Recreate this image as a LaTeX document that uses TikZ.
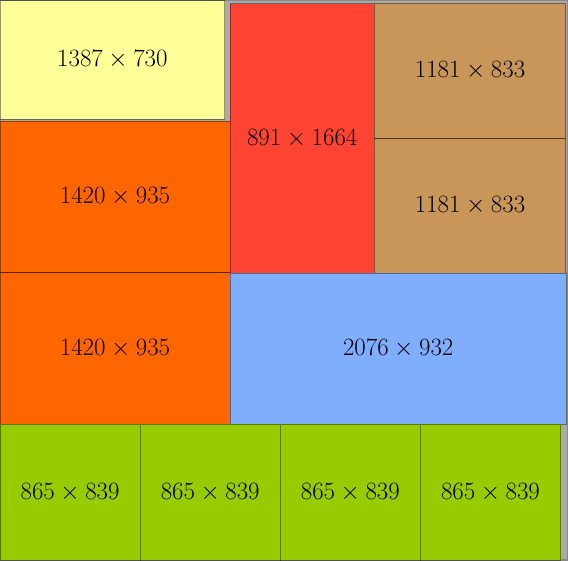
\documentclass[tikz,border=0pt]{standalone}
\usepackage{tikz}
\definecolor{binfill}{HTML}{AAAAAA}
\definecolor{binedge}{HTML}{888888}
\definecolor{cyel}{HTML}{FFFF99}
\definecolor{corange}{HTML}{FF6600}
\definecolor{cred}{HTML}{FF4433}
\definecolor{cbrown}{HTML}{C89659}
\definecolor{cblue}{HTML}{7FAEFF}
\definecolor{cgreen}{HTML}{99CC00}
\tikzset{
  piece/.style={draw=black, draw opacity=0.4, line width=0.8pt, anchor=south west,
    inner sep=0pt, outer sep=0pt, font=\fontsize{24}{28}\selectfont},
}
\newcommand{\pw}{0.162pt}
\begin{document}
\begin{tikzpicture}[x=0.162pt, y=0.162pt]
\useasboundingbox (0,0) rectangle (3506,3457);
\fill[binfill] (0,0) rectangle (3506,3457);
\draw[binedge, line width=1.2pt] (0,0) rectangle (3506,3457);
% top-left
\node[piece, fill=cyel, minimum width=1387*\pw, minimum height=730*\pw] (y1) at (0,2722) {$1387\times730$};
\node[piece, fill=corange, minimum width=1420*\pw, minimum height=935*\pw] (o1) at (0,1774) {$1420\times935$};
\node[piece, fill=corange, minimum width=1420*\pw, minimum height=935*\pw] (o2) at (0,839) {$1420\times935$};
\node[piece, fill=cred, minimum width=891*\pw, minimum height=1664*\pw] (r1) at (1420,1771) {$891\times1664$};
\node[piece, fill=cbrown, minimum width=1181*\pw, minimum height=833*\pw] (b1) at (2311,1771) {$1181\times833$};
\node[piece, fill=cbrown, minimum width=1181*\pw, minimum height=833*\pw] (b2) at (2311,2604) {$1181\times833$};
\node[piece, fill=cblue, minimum width=2076*\pw, minimum height=932*\pw] (bl) at (1420,839) {$2076\times932$};
\node[piece, fill=cgreen, minimum width=865*\pw, minimum height=839*\pw] (g1) at (0,0) {$865\times839$};
\node[piece, fill=cgreen, minimum width=865*\pw, minimum height=839*\pw] (g2) at (865,0) {$865\times839$};
\node[piece, fill=cgreen, minimum width=865*\pw, minimum height=839*\pw] (g3) at (1730,0) {$865\times839$};
\node[piece, fill=cgreen, minimum width=865*\pw, minimum height=839*\pw] (g4) at (2595,0) {$865\times839$};
\end{tikzpicture}
\end{document}
